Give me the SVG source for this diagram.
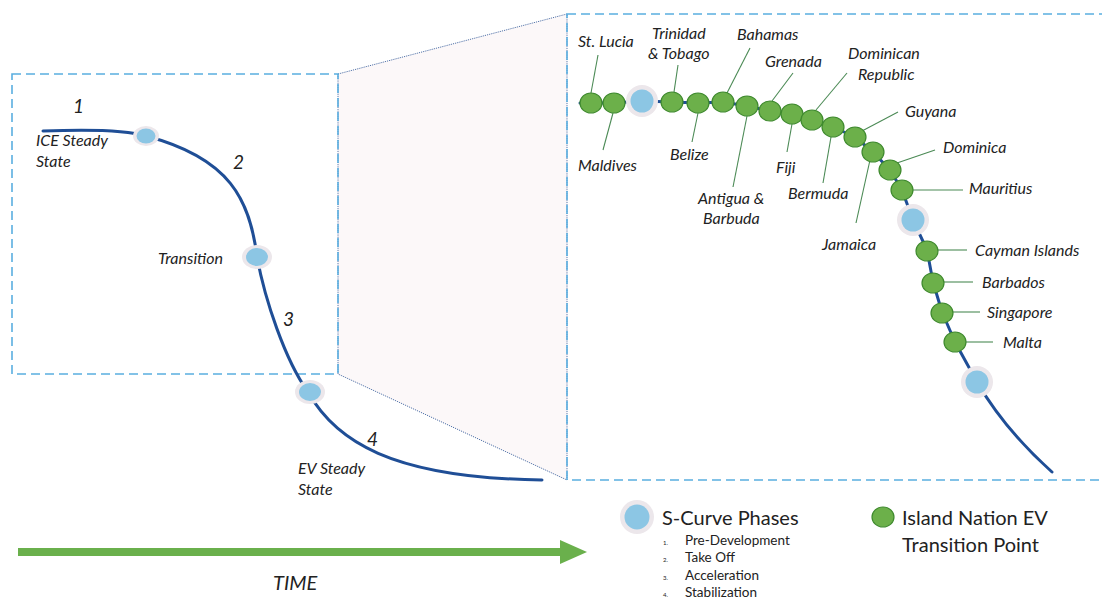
<svg xmlns="http://www.w3.org/2000/svg" width="1102" height="600" viewBox="0 0 1102 600">
<defs>
<style>
.box{fill:none;stroke:#5aaee0;stroke-width:1.6;stroke-dasharray:9 5}
.trap{fill:#fcf8f9;stroke:#5575aa;stroke-width:1;stroke-dasharray:1.2 1}
.curve{fill:none;stroke:#1f4e96;stroke-width:3;stroke-linecap:round;stroke-linejoin:round}
.lbl{font-family:Lato,"Open Sans",sans-serif;font-style:italic;font-size:16px;fill:#222}
.num{font-family:Lato,"Open Sans",sans-serif;font-style:italic;font-size:19px;fill:#222}
.lead{stroke:#4b8a55;stroke-width:1.1;fill:none}
.g{fill:#6cb04a;stroke:#3f8a2e;stroke-width:1.2}
.halo{fill:#ece7eb}
.b{fill:#8cc6e4}
.leg{font-family:Lato,"Open Sans",sans-serif;font-size:20px;fill:#222}
.item{font-family:Lato,"Open Sans",sans-serif;font-size:13.5px;fill:#222}
.tiny{font-family:Lato,"Open Sans",sans-serif;font-size:6px;fill:#222}
</style>
</defs>
<rect width="1102" height="600" fill="#ffffff"/>

<g id="zoom-trapezoid">
<polygon class="trap" points="338,74 567,14 567,480 338,374"/>
</g>
<g id="left-box"><rect class="box" x="12" y="74" width="326" height="300"/></g>
<g id="right-box"><rect class="box" x="567" y="14" width="600" height="466"/></g>

<g id="connectors">
<path class="curve" d="M43,131 Q120,128 146,136 C230,158 250,200 257,257 C265,300 285,360 308,392 C335,440 390,478 542,480"/>
<path class="curve" d="M580,103 L614,103 L642,101 L672,102 L698,103 L723,102 L747,106 L770,111 L792,114 L812,120 L833,127 L855,137 L873,152 L890,170 L902,190 L913,220 L927,250 L933,282 L942,312 L955,342 L977,382 Q1005,430 1052,472"/>
<g class="lead">
<line x1="598" y1="55" x2="591" y2="93"/>
<line x1="603" y1="150" x2="613" y2="113"/>
<line x1="678" y1="65" x2="674" y2="92"/>
<line x1="692" y1="142" x2="698" y2="113"/>
<line x1="750" y1="48" x2="727" y2="93"/>
<line x1="733" y1="187" x2="747" y2="116"/>
<line x1="793" y1="73" x2="772" y2="101"/>
<line x1="787" y1="152" x2="792" y2="124"/>
<line x1="847" y1="73" x2="816" y2="110"/>
<line x1="823" y1="183" x2="831" y2="137"/>
<line x1="898" y1="112" x2="862" y2="131"/>
<line x1="856" y1="223" x2="870" y2="160"/>
<line x1="935" y1="150" x2="897" y2="163"/>
<line x1="963" y1="190" x2="912" y2="190"/>
<line x1="967" y1="250" x2="937" y2="250"/>
<line x1="973" y1="282" x2="943" y2="282"/>
<line x1="980" y1="312" x2="952" y2="312"/>
<line x1="993" y1="342" x2="965" y2="342"/>
</g>
</g>

<g id="time-arrow">
<line x1="18" y1="552" x2="565" y2="552" stroke="#6ab04c" stroke-width="8"/>
<polygon points="560,540 587,552 560,564" fill="#6ab04c"/>
<text x="273" y="590" class="num" style="font-size:20px">TIME</text>
</g>

<g id="phase-1"><ellipse class="halo" cx="146" cy="136" rx="13" ry="10"/><ellipse class="b" cx="146" cy="136" rx="9.5" ry="7.5"/></g>
<g id="phase-2"><ellipse class="halo" cx="257" cy="257" rx="15" ry="12"/><ellipse class="b" cx="257" cy="257" rx="11" ry="9"/></g>
<g id="phase-3"><ellipse class="halo" cx="310" cy="392" rx="15" ry="12"/><ellipse class="b" cx="310" cy="392" rx="11" ry="9"/></g>

<g id="left-labels">
<text x="73" y="113" class="num">1</text>
<text x="36" y="146" class="lbl">ICE Steady</text>
<text x="36" y="167" class="lbl">State</text>
<text x="233" y="169" class="num">2</text>
<text x="158" y="264" class="lbl">Transition</text>
<text x="283" y="326" class="num">3</text>
<text x="367" y="446" class="num">4</text>
<text x="298" y="474" class="lbl">EV Steady</text>
<text x="298" y="495" class="lbl">State</text>
</g>

<g id="st-lucia"><ellipse class="g" cx="591" cy="103" rx="11" ry="10"/><text x="578" y="47" class="lbl">St. Lucia</text></g>
<g id="maldives"><ellipse class="g" cx="614" cy="103" rx="11" ry="10"/><text x="578" y="171" class="lbl">Maldives</text></g>
<g id="phase-r1"><circle class="halo" cx="642" cy="101" r="16"/><circle class="b" cx="642" cy="101" r="11.5"/></g>
<g id="trinidad"><ellipse class="g" cx="672" cy="102" rx="11" ry="10"/><text x="652" y="39" class="lbl">Trinidad</text><text x="648" y="59" class="lbl">&amp; Tobago</text></g>
<g id="belize"><ellipse class="g" cx="698" cy="103" rx="11" ry="10"/><text x="670" y="160" class="lbl">Belize</text></g>
<g id="bahamas"><ellipse class="g" cx="723" cy="102" rx="11" ry="10"/><text x="737" y="40" class="lbl">Bahamas</text></g>
<g id="antigua"><ellipse class="g" cx="747" cy="106" rx="11" ry="10"/><text x="698" y="204" class="lbl">Antigua &amp;</text><text x="703" y="224" class="lbl">Barbuda</text></g>
<g id="grenada"><ellipse class="g" cx="770" cy="111" rx="11" ry="10"/><text x="765" y="67" class="lbl">Grenada</text></g>
<g id="fiji"><ellipse class="g" cx="792" cy="114" rx="11" ry="10"/><text x="776" y="173" class="lbl">Fiji</text></g>
<g id="dominican"><ellipse class="g" cx="812" cy="120" rx="11" ry="10"/><text x="848" y="59" class="lbl">Dominican</text><text x="858" y="80" class="lbl">Republic</text></g>
<g id="bermuda"><ellipse class="g" cx="833" cy="127" rx="11" ry="10"/><text x="788" y="199" class="lbl">Bermuda</text></g>
<g id="guyana"><ellipse class="g" cx="855" cy="137" rx="11" ry="10"/><text x="905" y="117" class="lbl">Guyana</text></g>
<g id="jamaica"><ellipse class="g" cx="873" cy="152" rx="11" ry="10"/><text x="822" y="250" class="lbl">Jamaica</text></g>
<g id="dominica"><ellipse class="g" cx="890" cy="170" rx="11" ry="10"/><text x="943" y="153" class="lbl">Dominica</text></g>
<g id="mauritius"><ellipse class="g" cx="902" cy="190" rx="11" ry="10"/><text x="969" y="194" class="lbl">Mauritius</text></g>
<g id="phase-r2"><circle class="halo" cx="913" cy="220" r="16"/><circle class="b" cx="913" cy="220" r="11.5"/></g>
<g id="cayman"><ellipse class="g" cx="927" cy="251" rx="11" ry="10"/><text x="975" y="256" class="lbl">Cayman Islands</text></g>
<g id="barbados"><ellipse class="g" cx="933" cy="283" rx="11" ry="10"/><text x="982" y="288" class="lbl">Barbados</text></g>
<g id="singapore"><ellipse class="g" cx="942" cy="313" rx="11" ry="10"/><text x="987" y="318" class="lbl">Singapore</text></g>
<g id="malta"><ellipse class="g" cx="955" cy="342" rx="11" ry="10"/><text x="1003" y="348" class="lbl">Malta</text></g>
<g id="phase-r3"><circle class="halo" cx="977" cy="382" r="16"/><circle class="b" cx="977" cy="382" r="11.5"/></g>

<g id="legend-phases">
<circle class="halo" cx="637" cy="517" r="17"/><circle class="b" cx="637" cy="517" r="12.5"/>
<text x="662" y="525" class="leg">S-Curve Phases</text>
<text x="663" y="545" class="tiny">1.</text><text x="685" y="545" class="item">Pre-Development</text>
<text x="663" y="562" class="tiny">2.</text><text x="685" y="562" class="item">Take Off</text>
<text x="663" y="580" class="tiny">3.</text><text x="685" y="580" class="item">Acceleration</text>
<text x="663" y="597" class="tiny">4.</text><text x="685" y="597" class="item">Stabilization</text>
</g>
<g id="legend-island">
<ellipse class="g" cx="883" cy="517" rx="11" ry="10"/>
<text x="902" y="525" class="leg">Island Nation EV</text>
<text x="902" y="552" class="leg">Transition Point</text>
</g>
</svg>
